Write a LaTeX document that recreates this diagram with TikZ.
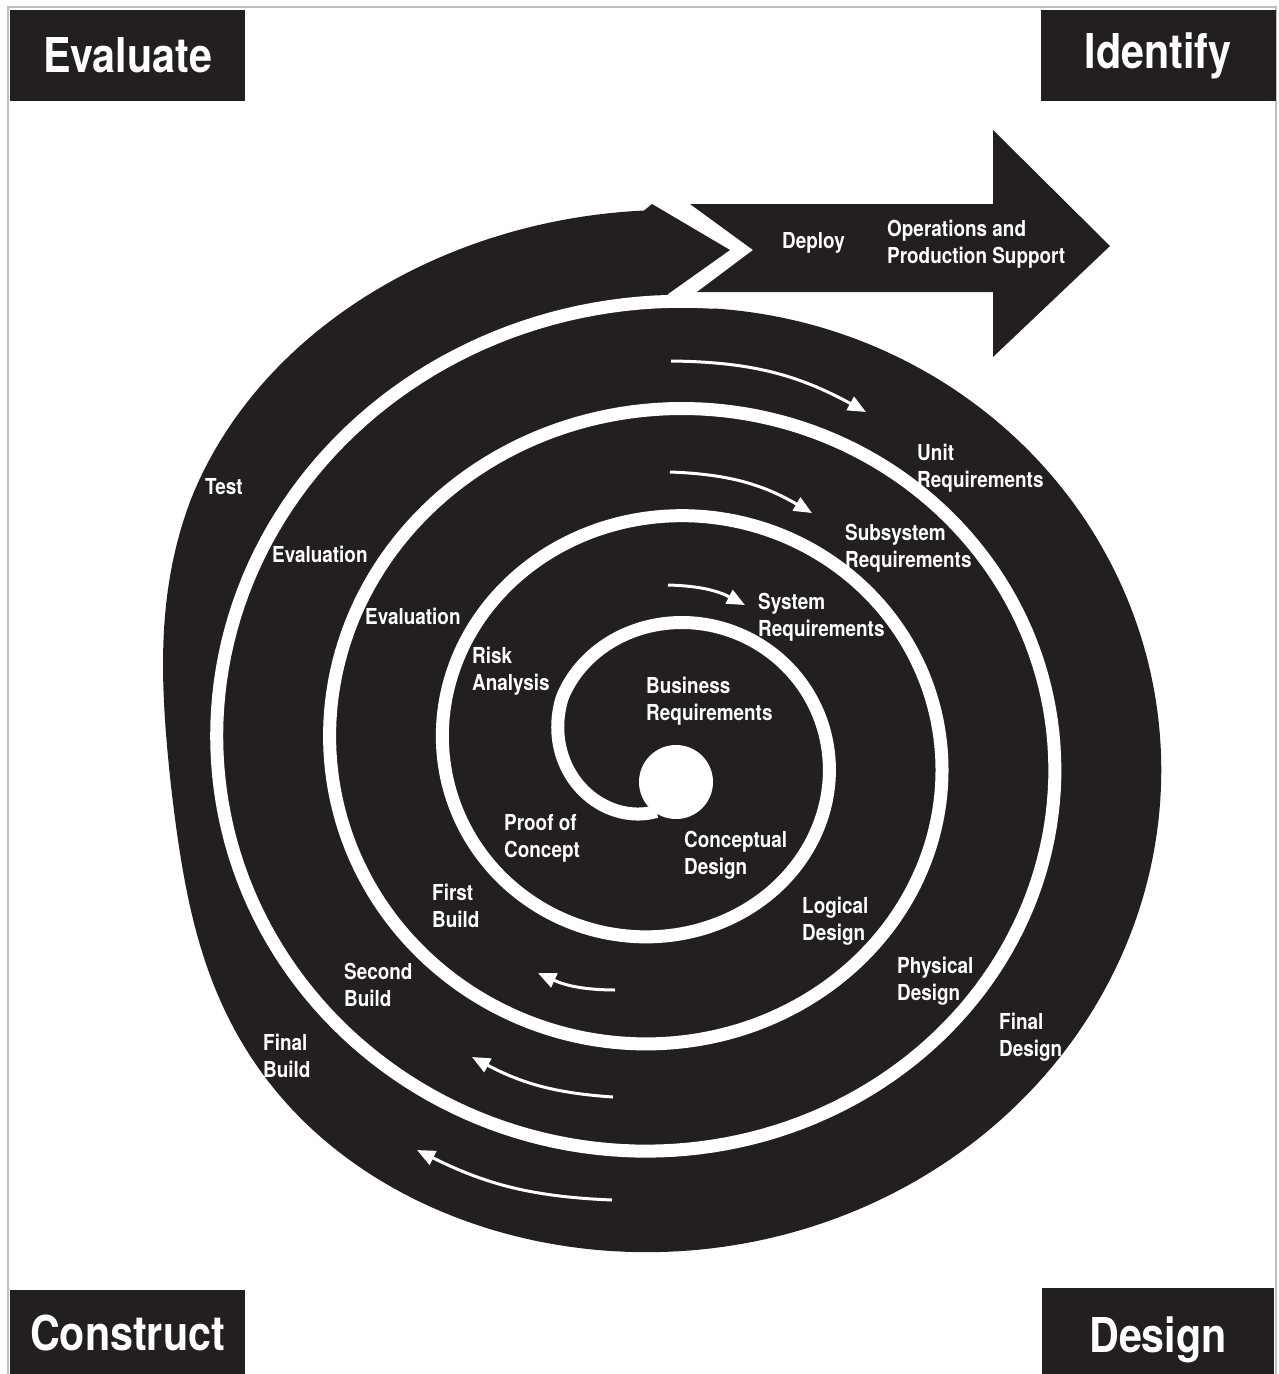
\documentclass[tikz,border=0pt]{standalone}
\usepackage{fontspec}
\newfontfamily\cond[FakeStretch=0.86]{TeX Gyre Heros}
\usetikzlibrary{arrows.meta}
\definecolor{ink}{RGB}{35,31,32}
\definecolor{framegray}{RGB}{190,190,190}
\begin{document}
\begin{tikzpicture}[x=1pt,y=1pt,
  lbl/.style={text=white, font=\cond\bfseries\fontsize{22}{27}\selectfont, align=left, anchor=west, inner sep=0pt},
  corner/.style={fill=ink, text=white, font=\cond\bfseries\fontsize{48}{50}\selectfont, inner sep=0pt, minimum width=235pt, minimum height=91pt},
  flow/.style={white, line width=3pt, -{Triangle[length=18pt,width=15pt]}}]

\useasboundingbox (0,0) rectangle (1279,-1374);
\fill[white] (0,0) rectangle (1279,-1374);
\draw[framegray, line width=2pt] (8,-7) rectangle (1276,-1380);

% black spiral body (outer edge of the last turn, flattened on the left)
\fill[ink] plot[domain=1440:1798, samples=300, variable=\t]
  ({664+(16.7+0.3139*\t-max(0,\t-1740)/6-58*exp(-((\t-1706)/32)^2))*sin(\t)},
   {-753+0.95*(16.7+0.3139*\t-max(0,\t-1740)/6-58*exp(-((\t-1706)/32)^2))*cos(\t)})
  -- (652,-204) -- (730,-250) -- (668,-294) -- cycle;

% deploy arrow
\fill[ink] (690,-204) -- (993,-204) -- (993,-130) -- (1110,-246) -- (993,-357)
  -- (993,-292) -- (697,-292) -- (753,-250) -- cycle;

% white spiral separator
\draw[white, line width=13pt] plot[domain=187:1446, samples=700, variable=\t]
  ({664+(23.2+0.3139*\t-max(0,300-\t)*0.177)*sin(\t)},
   {-753+0.95*(23.2+0.3139*\t-max(0,300-\t)*0.177)*cos(\t)});
\fill[white] (676,-782) circle (37);

% flow arrows
\coordinate (a1s) at (671,-361); \coordinate (a1e) at (866,-412);
\coordinate (a2s) at (670,-472); \coordinate (a2e) at (812,-513);
\coordinate (a3s) at (668,-585); \coordinate (a3e) at (745,-605);
\coordinate (b1s) at (615,-990); \coordinate (b1e) at (538,-973);
\coordinate (b2s) at (613,-1097); \coordinate (b2e) at (472,-1057);
\coordinate (b3s) at (612,-1200); \coordinate (b3e) at (417,-1150);
\draw[flow] (a1s) to[bend left=14] (a1e);
\draw[flow] (a2s) to[bend left=14] (a2e);
\draw[flow] (a3s) to[bend left=13] (a3e);
\draw[flow] (b1s) to[bend left=12] (b1e);
\draw[flow] (b2s) to[bend left=12] (b2e);
\draw[flow] (b3s) to[bend left=12] (b3e);

% labels
\node[lbl] (bizreq) at (646,-701) {Business\\Requirements};
\node[lbl] (concd) at (684,-855) {Conceptual\\Design};
\node[lbl] (poc) at (504,-838) {Proof of\\Concept};
\node[lbl] (risk) at (472,-671) {Risk\\Analysis};
\node[lbl] (sysreq) at (758,-617) {System\\Requirements};
\node[lbl] (logd) at (802,-921) {Logical\\Design};
\node[lbl] (fb) at (432,-906) {First\\Build};
\node[lbl] (evalin) at (365,-616) {Evaluation};
\node[lbl] (evalout) at (272,-554) {Evaluation};
\node[lbl] (subreq) at (845,-548) {Subsystem\\Requirements};
\node[lbl] (phys) at (897,-981) {Physical\\Design};
\node[lbl] (sb) at (344,-985) {Second\\Build};
\node[lbl] (unit) at (917,-468) {Unit\\Requirements};
\node[lbl] (fdes) at (999,-1037) {Final\\Design};
\node[lbl] (fbuild) at (263,-1056) {Final\\Build};
\node[lbl] (test) at (205,-487) {Test};
\node[lbl] (deploy) at (782,-243) {Deploy};
\node[lbl] (ops) at (887,-244) {Operations and\\Production Support};

% corner boxes
\node[corner] (evaluate) at (127.5,-55.5) {Evaluate};
\node[corner] (identify) at (1158,-55.5) {Identify};
\node[corner, minimum height=86pt] (construct) at (127.5,-1333) {Construct};
\fill[ink] (1042,-1288) rectangle (1274,-1374);
\node[text=white, font=\cond\bfseries\fontsize{48}{50}\selectfont, inner sep=0pt, anchor=base] (design) at (1158,-1352) {Design};
\end{tikzpicture}
\end{document}
